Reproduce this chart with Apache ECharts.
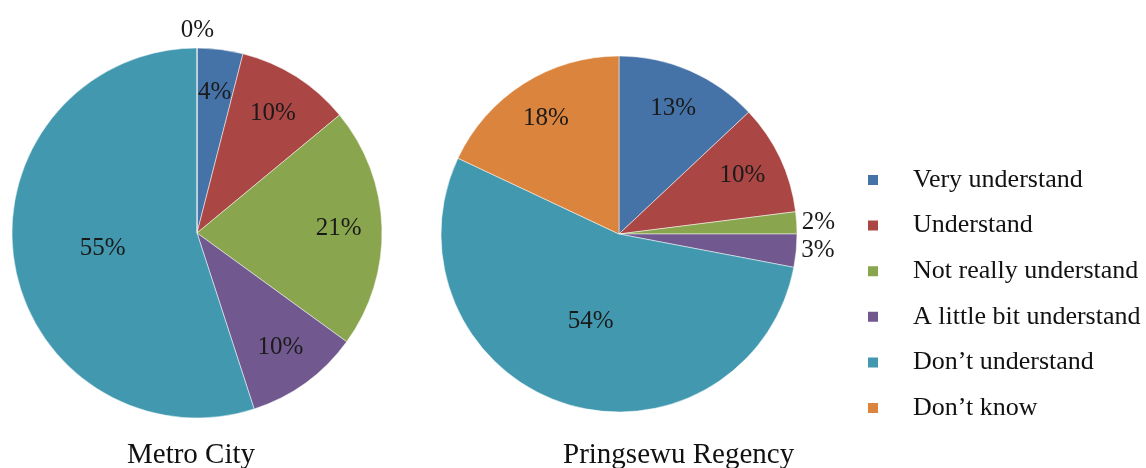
<!DOCTYPE html>
<html>
<head>
<meta charset="utf-8">
<script src="https://cdn.jsdelivr.net/npm/echarts@6/dist/echarts.min.js"></script>
<style>
html,body{margin:0;padding:0;background:#fff;}
#chart{width:1146px;height:468px;}
</style>
</head>
<body>
<div id="chart"></div>
<script>
var categories = ['Very understand','Understand','Not really understand','A little bit understand','Don\u2019t understand','Don\u2019t know'];
var metroValues = [4, 10, 21, 10, 55, 0];
var pringsewuValues = [13, 10, 2, 3, 54, 18];
var colors = ['#4572A7','#AA4643','#89A54E','#71588F','#4198AF','#DB843D'];

var serif = 'Liberation Serif';
var labelFont = {formatter: '{c}%', color: '#1a1a1a', fontFamily: serif, fontSize: 25};

// the big slice keeps its label near the centre
function mainData(values)
{
	return values.map(function(v, i) {
		return {value: v, name: categories[i], label: {show: v > 40}};
	});
}

// label ring: mid slices labelled further out, small ones outside
function ringData(values)
{
	return values.map(function(v, i) {
		var item = {value: v, name: categories[i], label: {show: v <= 40}};
		if (v < 4) {
			item.label.position = 'outside';
			if (v === 0) {
				item.labelLine = {length: 18, length2: 0};
				item.label.distanceToLabelLine = -17;
			}
		}
		return item;
	});
}

function pieSeries(name, values, center, radius)
{
	return [{
		name: name,
		type: 'pie',
		center: center,
		radius: radius,
		startAngle: 90,
		avoidLabelOverlap: false,
		label: echarts.util.extend({position: 'inside'}, labelFont),
		labelLine: {show: false},
		itemStyle: {borderColor: '#fff', borderWidth: 0.5},
		emphasis: {disabled: true},
		data: mainData(values)
	}, {
		name: name + ' labels',
		type: 'pie',
		center: center,
		radius: [radius * 0.5, radius],
		startAngle: 90,
		silent: true,
		avoidLabelOverlap: false,
		label: echarts.util.extend({position: 'inside'}, labelFont),
		labelLine: {show: false, length: 0, length2: 0},
		itemStyle: {color: 'rgba(0,0,0,0)', borderWidth: 0},
		emphasis: {disabled: true},
		data: ringData(values)
	}];
}

var chart = echarts.init(document.getElementById('chart'));
var option = {
	backgroundColor: '#fff',
	color: colors,
	animation: false,
	title: [
		{text: 'Metro City', left: 127, top: 441, padding: 0,
			textStyle: {fontFamily: serif, fontSize: 29, fontWeight: 'normal', color: '#111'}},
		{text: 'Pringsewu Regency', left: 563, top: 441, padding: 0,
			textStyle: {fontFamily: serif, fontSize: 29, fontWeight: 'normal', color: '#111'}}
	],
	legend: {
		orient: 'vertical',
		left: 866,
		top: 167,
		padding: 0,
		icon: 'rect',
		itemWidth: 12,
		itemHeight: 12,
		itemGap: 19.6,
		selectedMode: false,
		textStyle: {fontFamily: serif, fontSize: 26, color: '#111', lineHeight: 26, padding: [0, 0, 0, 29]},
		data: categories
	},
	series: pieSeries('Metro City', metroValues, [197, 233], 185)
		.concat(pieSeries('Pringsewu Regency', pringsewuValues, [619, 234], 178))
};
chart.setOption(option);
</script>
</body>
</html>
